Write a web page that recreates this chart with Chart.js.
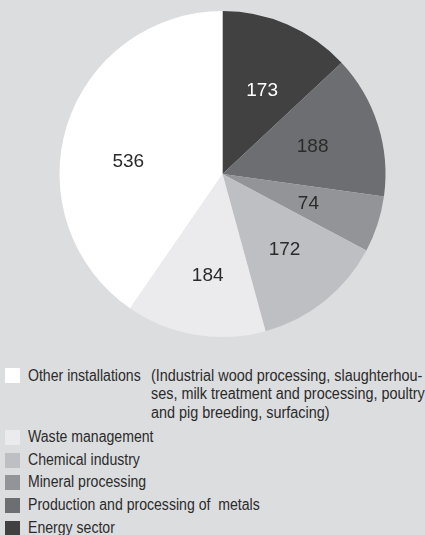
<!DOCTYPE html>
<html>
<head>
<meta charset="utf-8">
<script src="https://cdn.jsdelivr.net/npm/chart.js@4/dist/chart.umd.min.js"></script>
<style>
  html, body { margin: 0; padding: 0; background: #dcdddf; }
  body { width: 425px; height: 535px; position: relative; overflow: hidden; font-family: "Liberation Sans", Arial, sans-serif; color: #2b2b2b; }
  #wrap { position: absolute; left: 0; top: 0; width: 425px; height: 350px; }
  #legend { position: absolute; left: 5px; top: 367px; width: 420px; font-size: 16px; }
  .item { position: relative; height: 22.7px; line-height: 22.7px; }
  .box { position: absolute; left: 0; top: 4px; width: 15px; height: 15px; }
  .txt { position: absolute; left: 23px; top: 0; white-space: pre; transform: scaleX(0.88); transform-origin: 0 0; }
  .item.multi { height: 59px; line-height: 18.3px; }
  .item.multi .box { top: 1px; }
  .item.multi .body { left: 146px; transform: scaleX(0.9); }
</style>
</head>
<body>
<div id="wrap"><canvas id="c"></canvas></div>
<div id="legend"></div>
<script>
// Data, clockwise from 12 o'clock
const categories = [
  "Energy sector",
  "Production and processing of  metals",
  "Mineral processing",
  "Chemical industry",
  "Waste management",
  "Other installations (Industrial wood processing, slaughterhouses, milk treatment and processing, poultry and pig breeding, surfacing)"
];
const values = [173, 188, 74, 172, 184, 536];
const colors = ["#414141", "#6d6e71", "#939497", "#bebfc2", "#ebebed", "#ffffff"];
const labelColors = ["#ffffff", "#2b2b2b", "#2b2b2b", "#2b2b2b", "#2b2b2b", "#2b2b2b"];
// legend display (reverse order), first entry wrapped with hanging indent
const legendLines = [
  ["Other installations", "(Industrial wood processing, slaughterhou-", "ses, milk treatment and processing, poultry", "and pig breeding, surfacing)"],
  ["Waste management"],
  ["Chemical industry"],
  ["Mineral processing"],
  ["Production and processing of  metals"],
  ["Energy sector"]
];

// small hand-placement nudges for value labels (pixels), as in the reference
const labelNudge = [[2, 3], [0, 1], [-4, 1], [3, 2], [1, 9], [-4, 16]];

const valueLabels = {
  id: 'valueLabels',
  afterDatasetsDraw(chart) {
    const ctx = chart.ctx;
    const meta = chart.getDatasetMeta(0);
    ctx.save();
    ctx.font = '19px "Liberation Sans", Arial, sans-serif';
    ctx.textAlign = 'center';
    ctx.textBaseline = 'middle';
    meta.data.forEach((arc, i) => {
      const p = arc.getProps(['x', 'y', 'startAngle', 'endAngle', 'outerRadius'], true);
      const mid = (p.startAngle + p.endAngle) / 2;
      const r = p.outerRadius * 0.58;
      ctx.fillStyle = labelColors[i];
      ctx.fillText(String(values[i]), p.x + Math.cos(mid) * r + labelNudge[i][0], p.y + Math.sin(mid) * r + labelNudge[i][1]);
    });
    ctx.restore();
  }
};

new Chart(document.getElementById('c'), {
  type: 'pie',
  data: {
    labels: categories,
    datasets: [{
      data: values,
      backgroundColor: colors,
      borderWidth: 0,
      hoverOffset: 0,
      offset: 0
    }]
  },
  options: {
    responsive: true,
    maintainAspectRatio: false,
    animation: false,
    events: [],
    layout: { padding: { top: 11, bottom: 13, left: 20, right: 0 } },
    plugins: { legend: { display: false }, tooltip: { enabled: false } }
  },
  plugins: [valueLabels]
});

// HTML legend
const legend = document.getElementById('legend');
const order = [5, 4, 3, 2, 1, 0];
order.forEach((idx, k) => {
  const lines = legendLines[k];
  const item = document.createElement('div');
  item.className = 'item' + (lines.length > 1 ? ' multi' : '');
  const box = document.createElement('div');
  box.className = 'box';
  box.style.background = colors[idx];
  item.appendChild(box);
  const head = document.createElement('span');
  head.className = 'txt';
  head.textContent = lines[0];
  item.appendChild(head);
  if (lines.length > 1) {
    const body = document.createElement('span');
    body.className = 'txt body';
    body.textContent = lines.slice(1).join('\n');
    item.appendChild(body);
  }
  legend.appendChild(item);
});
</script>
</body>
</html>
